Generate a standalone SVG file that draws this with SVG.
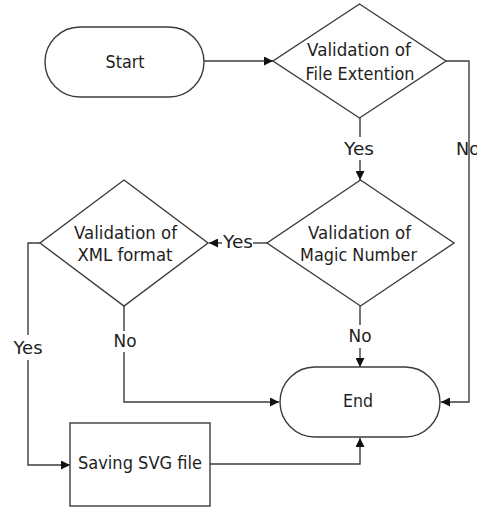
<svg xmlns="http://www.w3.org/2000/svg" width="477" height="508" viewBox="0 0 477 508">
  <style>
    .shape { fill: #ffffff; stroke: #3c3c3c; stroke-width: 1.4; }
    .wire { fill: none; stroke: #3c3c3c; stroke-width: 1.4; }
    text { font-family: "DejaVu Sans", sans-serif; font-size: 18px; fill: #1e1e1e; text-anchor: middle; }
  </style>
  <defs>
    <marker id="arrow" viewBox="0 0 10 10" refX="10" refY="5" markerWidth="9" markerHeight="9" markerUnits="userSpaceOnUse" orient="auto">
      <path d="M0,0 L10,5 L0,10 z" fill="#111111"/>
    </marker>
  </defs>
  <rect width="477" height="508" fill="#ffffff"/>

  <!-- connectors -->
  <g id="connectors">
    <path class="wire" d="M204,61 H273" marker-end="url(#arrow)"/>
    <path class="wire" d="M446,61 H469 V402 H441" marker-end="url(#arrow)"/>
    <path class="wire" d="M360,118 V137"/>
    <path class="wire" d="M360,160 V180" marker-end="url(#arrow)"/>
    <path class="wire" d="M267,243 H253"/>
    <path class="wire" d="M222,243 H209" marker-end="url(#arrow)"/>
    <path class="wire" d="M360,306 V325"/>
    <path class="wire" d="M360,348 V367" marker-end="url(#arrow)"/>
    <path class="wire" d="M124,306 V331"/>
    <path class="wire" d="M124,352 V402 H279" marker-end="url(#arrow)"/>
    <path class="wire" d="M40,243 H28 V335"/>
    <path class="wire" d="M28,360 V465 H70" marker-end="url(#arrow)"/>
    <path class="wire" d="M210,464 H360 V438" marker-end="url(#arrow)"/>
    <text x="359" y="155" textLength="30" lengthAdjust="spacingAndGlyphs">Yes</text>
    <text x="456" y="155" style="text-anchor:start" textLength="24" lengthAdjust="spacingAndGlyphs">No</text>
    <text x="238" y="248" textLength="30" lengthAdjust="spacingAndGlyphs">Yes</text>
    <text x="360" y="342" textLength="23" lengthAdjust="spacingAndGlyphs">No</text>
    <text x="125" y="347" textLength="23" lengthAdjust="spacingAndGlyphs">No</text>
    <text x="28" y="354" textLength="29" lengthAdjust="spacingAndGlyphs">Yes</text>
  </g>

  <g id="start">
    <rect class="shape" x="45" y="27" width="159" height="70" rx="35" ry="35"/>
    <text x="125" y="67.5" textLength="39" lengthAdjust="spacingAndGlyphs">Start</text>
  </g>

  <g id="check-extension">
    <polygon class="shape" points="359.5,4 446,61 359.5,118 273,61"/>
    <text x="359" y="56" textLength="104" lengthAdjust="spacingAndGlyphs">Validation of</text>
    <text x="360" y="80" textLength="109" lengthAdjust="spacingAndGlyphs">File Extention</text>
  </g>

  <g id="check-magic">
    <polygon class="shape" points="360.5,180 454,243 360.5,306 267,243"/>
    <text x="359.5" y="239" textLength="103" lengthAdjust="spacingAndGlyphs">Validation of</text>
    <text x="358.5" y="261" textLength="117" lengthAdjust="spacingAndGlyphs">Magic Number</text>
  </g>

  <g id="check-xml">
    <polygon class="shape" points="124,180 208,243 124,306 40,243"/>
    <text x="125.5" y="239" textLength="103" lengthAdjust="spacingAndGlyphs">Validation of</text>
    <text x="125" y="261" textLength="95" lengthAdjust="spacingAndGlyphs">XML format</text>
  </g>

  <g id="end">
    <rect class="shape" x="280" y="367" width="160" height="70" rx="35" ry="35"/>
    <text x="358" y="407" textLength="30" lengthAdjust="spacingAndGlyphs">End</text>
  </g>

  <g id="save-svg">
    <rect class="shape" x="70" y="423" width="140" height="83"/>
    <text x="140" y="469" textLength="124" lengthAdjust="spacingAndGlyphs">Saving SVG file</text>
  </g>
</svg>
